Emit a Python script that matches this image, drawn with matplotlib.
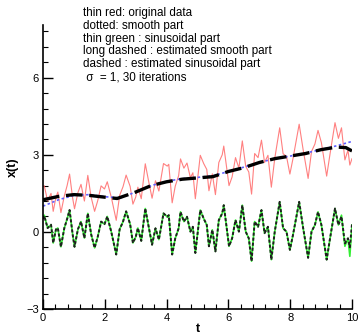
import matplotlib
matplotlib.use("Agg")
import matplotlib.pyplot as plt
from matplotlib.ticker import MultipleLocator

plt.rcParams['font.family'] = ['Liberation Sans', 'DejaVu Sans']

# sinusoidal part (thin green) sample times and values
sin_t = [0.00, 0.04, 0.15, 0.26, 0.33, 0.42, 0.48, 0.58, 0.69, 0.78, 0.86, 0.96,
         1.02, 1.13, 1.23, 1.34, 1.45, 1.56, 1.67, 1.77, 1.88, 1.99, 2.08, 2.21,
         2.37, 2.48, 2.59, 2.69, 2.82, 2.91, 3.00, 3.07, 3.18, 3.31, 3.42, 3.53,
         3.64, 3.75, 3.90, 4.02, 4.07, 4.18, 4.28, 4.39, 4.45, 4.56, 4.66, 4.77,
         4.85, 4.93, 5.09, 5.20, 5.30, 5.37, 5.48, 5.58, 5.69, 5.80, 5.85, 5.96,
         6.02, 6.12, 6.23, 6.34, 6.45, 6.56, 6.66, 6.75, 6.85, 6.96, 7.07, 7.17,
         7.28, 7.39, 7.50, 7.66, 7.77, 7.88, 7.99, 8.09, 8.29, 8.42, 8.58, 8.69,
         8.80, 8.90, 9.01, 9.18, 9.29, 9.45, 9.56, 9.66, 9.77, 9.87, 9.93, 10.00]
sin_v = [0.55, 0.65, 0.15, 0.28, -0.43, 0.10, 0.15, -0.58, 0.15, 0.50, 0.85, -0.10,
         -0.58, 0.10, 0.40, -0.24, 0.72, -0.10, -0.62, -0.20, 0.40, 0.30, 0.60, 0.00,
         -0.88, 0.10, 0.40, 0.80, 0.30, -0.43, -0.20, 0.15, -0.35, 0.91, 0.20, -0.50,
         0.14, -0.30, 0.72, 0.59, 0.65, -0.88, -0.25, 0.14, 0.78, 0.40, 0.59, 0.01,
         0.20, -0.82, 0.85, 0.52, 0.27, -0.56, 0.08, -0.76, 0.46, 0.72, 1.04, 0.01,
         -0.56, -0.25, 0.46, 0.01, 1.04, 0.01, -0.25, -1.14, 0.40, 0.20, 0.85, -0.05,
         0.20, -1.08, 0.01, 1.17, 0.14, 0.01, -0.70, -0.12, 1.17, 0.14, -1.01, 0.01,
         0.27, 0.78, 0.27, -1.08, -0.25, 0.91, 0.27, 0.65, -0.56, -0.25, -0.95, 0.27]
# estimated sinusoidal part (dashed)
est_sin_v = [0.50, 0.62, 0.15, 0.28, -0.43, 0.10, 0.15, -0.58, 0.15, 0.50, 0.85, -0.10,
             -0.58, 0.10, 0.40, -0.24, 0.72, -0.10, -0.62, -0.20, 0.40, 0.30, 0.60, 0.00,
             -0.88, 0.10, 0.40, 0.80, 0.30, -0.43, -0.20, 0.15, -0.35, 0.91, 0.20, -0.50,
             0.14, -0.30, 0.72, 0.59, 0.65, -0.88, -0.25, 0.14, 0.78, 0.40, 0.59, 0.01,
             0.20, -0.82, 0.85, 0.52, 0.27, -0.56, 0.08, -0.76, 0.46, 0.72, 1.04, 0.01,
             -0.56, -0.25, 0.46, 0.01, 1.04, 0.01, -0.25, -1.14, 0.40, 0.20, 0.85, -0.05,
             0.20, -1.08, 0.01, 1.17, 0.14, 0.01, -0.70, -0.12, 1.17, 0.14, -1.01, 0.01,
             0.27, 0.78, 0.27, -1.08, -0.25, 0.91, 0.27, 0.60, -0.45, -0.25, -0.60, 0.30]
# original data (thin red)
orig_v = [1.75, 1.80, 1.20, 1.50, 0.80, 1.35, 1.55, 0.75, 1.40, 1.80, 2.25, 1.31,
          0.90, 1.53, 1.85, 1.20, 2.20, 1.34, 0.80, 1.21, 1.79, 1.67, 1.95, 1.35,
          0.45, 1.42, 1.76, 2.21, 1.77, 1.08, 1.35, 1.74, 1.29, 2.65, 1.96, 1.31,
          1.99, 1.59, 2.66, 2.56, 2.63, 1.13, 1.78, 2.19, 2.84, 2.48, 2.68, 2.11,
          2.30, 1.29, 2.98, 2.66, 2.43, 1.60, 2.26, 1.45, 2.70, 3.00, 3.34, 2.35,
          1.80, 2.14, 2.89, 2.48, 3.54, 2.55, 2.33, 1.47, 3.05, 2.89, 3.57, 2.70,
          2.98, 1.74, 2.86, 4.05, 3.04, 2.94, 2.25, 2.85, 4.19, 3.19, 2.08, 3.13,
          3.42, 3.95, 3.47, 2.17, 3.04, 4.25, 3.64, 4.05, 2.80, 3.18, 2.60, 2.85]

# smooth part (dotted) and estimated smooth part (long dashed)
smooth_t = [0.0, 0.5, 1.0, 1.5, 2.0, 2.5, 3.0, 3.5, 4.0, 4.5, 5.0, 5.5, 6.0, 6.5,
            7.0, 7.5, 8.0, 8.5, 9.0, 9.5, 10.0]
smooth_v = [1.00, 1.25, 1.42, 1.45, 1.37, 1.32, 1.55, 1.80, 1.97, 2.07, 2.12, 2.18,
            2.35, 2.52, 2.70, 2.85, 2.95, 3.07, 3.20, 3.35, 3.52]
est_smooth_t = [0.0, 0.5, 1.0, 1.5, 2.0, 2.4, 3.0, 3.5, 4.0, 4.5, 5.0, 5.5, 6.0,
                6.5, 7.0, 7.5, 8.0, 8.5, 9.0, 9.5, 9.8, 10.0]
est_smooth_v = [1.25, 1.38, 1.45, 1.42, 1.35, 1.30, 1.55, 1.80, 1.95, 2.05, 2.10,
                2.15, 2.35, 2.50, 2.70, 2.85, 2.95, 3.05, 3.20, 3.30, 3.28, 3.15]

notes = ["thin red: original data",
         "dotted: smooth part",
         "thin green : sinusoidal part",
         "long dashed : estimated smooth part",
         "dashed : estimated sinusoidal part",
         " \u03c3  = 1, 30 iterations"]

fig = plt.figure(figsize=(3.63, 3.34), dpi=100)
ax = fig.add_axes([43 / 363, 25 / 334, 309 / 363, 284 / 334])

ax.plot(sin_t, orig_v, color='#ff6060', lw=0.8, alpha=0.8)
ax.plot(sin_t, sin_v, color='#33ee33', lw=1.2)
ax.plot(smooth_t, smooth_v, color='#6060ff', lw=1.2, ls=(0, (1.5, 1.5)))
ax.plot(est_smooth_t, est_smooth_v, color='black', lw=2.4, ls=(0, (5, 2)))
ax.plot(sin_t, est_sin_v, color='#202020', lw=1.4, ls=(0, (1.6, 1.0)))

ax.set_xlim(0, 10)
ax.set_ylim(-3, 8.05)
ax.xaxis.set_major_locator(MultipleLocator(2))
ax.xaxis.set_minor_locator(MultipleLocator(0.4))
ax.yaxis.set_major_locator(MultipleLocator(3))
ax.yaxis.set_minor_locator(MultipleLocator(0.6))
ax.tick_params(which='major', direction='in', length=7, width=1.0, labelsize=8, pad=3)
ax.tick_params(which='minor', direction='in', length=3.5, width=0.8)
ax.spines['top'].set_visible(False)
ax.spines['right'].set_visible(False)
ax.spines['left'].set_linewidth(1.2)
ax.spines['bottom'].set_linewidth(1.2)
ax.set_xlabel('t', fontsize=9, fontweight='bold', labelpad=0)
ax.set_ylabel('x(t)', fontsize=9, fontweight='bold', labelpad=5)

for i, s in enumerate(notes):
    fig.text(83 / 363, 1 - (13 + i * 12.8) / 334, s, fontsize=8.4, va='center', ha='left')

fig.savefig('out.png', dpi=100)
